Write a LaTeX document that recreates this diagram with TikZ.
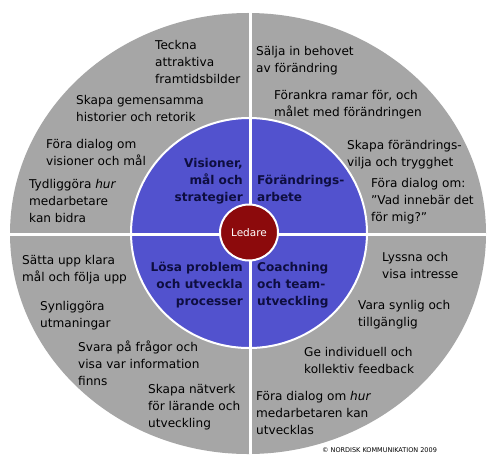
\documentclass[tikz,border=0pt]{standalone}
\usepackage{fontspec}
\usetikzlibrary{shapes.geometric}
\setmainfont{DejaVu Sans}
\definecolor{ringgray}{RGB}{166,166,166}
\definecolor{coreblue}{RGB}{82,82,206}
\definecolor{corered}{RGB}{140,10,12}
\definecolor{navy}{RGB}{14,14,64}
\tikzset{
  txt/.style={inner sep=0pt, anchor=north west, align=left, text=black,
    font=\fontsize{12.1}{17}\selectfont},
  hd/.style={inner sep=0pt, align=left, text=navy,
    font=\fontsize{12.1}{17.3}\selectfont\bfseries},
  divider/.style={draw=white, line width=3pt},
}
\begin{document}
\begin{tikzpicture}[x=1pt,y=-1pt]
\useasboundingbox[fill=white] (0,0) rectangle (502,468);
% outer ring
\fill[ringgray] (248,233.5) ellipse [x radius=238, y radius=220.5];
% inner disc
\draw[draw=white, fill=coreblue, line width=2pt] (249,233) ellipse [x radius=118, y radius=115];
% dividers
\begin{scope}
  \clip (248,233.5) ellipse [x radius=238, y radius=220.5];
  \coordinate (vt) at (250,0);
  \coordinate (vb) at (250,468);
  \coordinate (hl) at (0,234);
  \coordinate (hr) at (502,234);
  \draw[divider] (vt) -- (vb);
  \draw[divider] (hl) -- (hr);
\end{scope}
% centre
\node[draw=white, line width=2pt, fill=corered, ellipse, minimum width=58pt, minimum height=56pt, inner sep=0pt,
  text=white, font=\fontsize{10.5}{12}\selectfont] (ledare) at (249,232.5) {Ledare};

% core headings
\node[hd, anchor=north east, align=right] (h1) at (243,155) {\strut Visioner,\\mål och\\strategier};
\node[hd, anchor=north west] (h2) at (257,172) {\strut Förändrings-\\arbete};
\node[hd, anchor=north east, align=right] (h3) at (243,259) {\strut Lösa problem\\och utveckla\\processer};
\node[hd, anchor=north west] (h4) at (257,259) {\strut Coachning\\och team-\\utveckling};

% top left
\node[txt] (a1) at (155,37) {\strut Teckna\\attraktiva\\framtidsbilder};
\node[txt] (a2) at (76,92) {\strut Skapa gemensamma\\historier och retorik};
\node[txt] (a3) at (46,136) {\strut Föra dialog om\\visioner och mål};
\node[txt] (a4) at (29,176) {\strut Tydliggöra \textit{hur}\\medarbetare\\kan bidra};
% top right
\node[txt] (b1) at (256,43) {\strut Sälja in behovet\\av förändring};
\node[txt] (b2) at (274,87) {\strut Förankra ramar för, och\\målet med förändringen};
\node[txt] (b3) at (347,137) {\strut Skapa förändrings-\\vilja och trygghet};
\node[txt] (b4) at (371,175) {\strut Föra dialog om:\\”Vad innebär det\\för mig?”};
% bottom left
\node[txt] (c1) at (22,252) {\strut Sätta upp klara\\mål och följa upp};
\node[txt] (c2) at (40,298) {\strut Synliggöra\\utmaningar};
\node[txt] (c3) at (78,339) {\strut Svara på frågor och\\visa var information\\finns};
\node[txt] (c4) at (148,381) {\strut Skapa nätverk\\för lärande och\\utveckling};
% bottom right
\node[txt] (d1) at (382,249) {\strut Lyssna och\\visa intresse};
\node[txt] (d2) at (358,297) {\strut Vara synlig och\\tillgänglig};
\node[txt] (d3) at (304,344) {\strut Ge individuell och\\kollektiv feedback};
\node[txt] (d4) at (256,388) {\strut Föra dialog om \textit{hur}\\medarbetaren kan\\utvecklas};

% copyright
\node[inner sep=0pt, font=\fontsize{6.5}{7}\selectfont] (copy) at (379.5,450) {© NORDISK KOMMUNIKATION 2009};
\end{tikzpicture}
\end{document}
